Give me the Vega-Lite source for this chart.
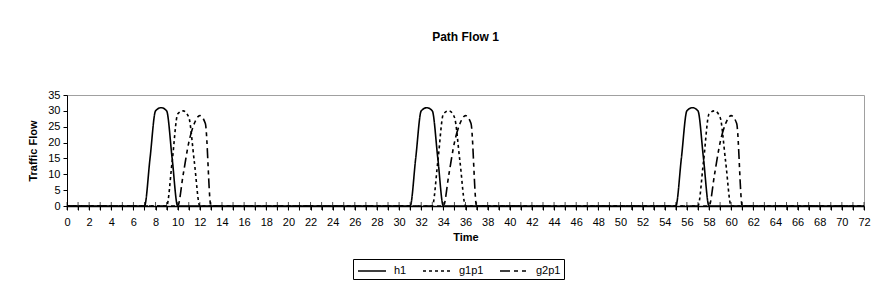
{
  "$schema": "https://vega.github.io/schema/vega-lite/v6.json",
  "width": 797,
  "height": 111,
  "autosize": "none",
  "padding": {"left": 67, "top": 95, "right": 8, "bottom": 91},
  "background": "white",
  "config": {
    "font": "Liberation Sans",
    "view": {"stroke": "#a0a0a0", "strokeWidth": 1}
  },
  "title": {
    "text": "Path Flow 1",
    "fontSize": 12,
    "fontWeight": "bold",
    "offset": 45,
    "anchor": "middle",
    "color": "black",
    "font": "Liberation Sans"
  },
  "data": {
    "values": [
      {"t": 0, "h1": 0, "g1p1": 0, "g2p1": 0},
      {"t": 1, "h1": 0, "g1p1": 0, "g2p1": 0},
      {"t": 2, "h1": 0, "g1p1": 0, "g2p1": 0},
      {"t": 3, "h1": 0, "g1p1": 0, "g2p1": 0},
      {"t": 4, "h1": 0, "g1p1": 0, "g2p1": 0},
      {"t": 5, "h1": 0, "g1p1": 0, "g2p1": 0},
      {"t": 6, "h1": 0, "g1p1": 0, "g2p1": 0},
      {"t": 7, "h1": 0, "g1p1": 0, "g2p1": 0},
      {"t": 7.5, "h1": 15},
      {"t": 8, "h1": 30, "g1p1": 0, "g2p1": 0},
      {"t": 8.5, "h1": 31},
      {"t": 9, "h1": 30, "g1p1": 0, "g2p1": 0},
      {"t": 9.5, "h1": 15, "g1p1": 14},
      {"t": 10, "h1": 0, "g1p1": 29, "g2p1": 0},
      {"t": 10.5, "g1p1": 30, "g2p1": 10},
      {"t": 11, "h1": 0, "g1p1": 28, "g2p1": 20},
      {"t": 11.5, "g1p1": 14, "g2p1": 26},
      {"t": 12, "h1": 0, "g1p1": 0, "g2p1": 28.5},
      {"t": 12.5, "g2p1": 26},
      {"t": 13, "h1": 0, "g1p1": 0, "g2p1": 0},
      {"t": 14, "h1": 0, "g1p1": 0, "g2p1": 0},
      {"t": 15, "h1": 0, "g1p1": 0, "g2p1": 0},
      {"t": 16, "h1": 0, "g1p1": 0, "g2p1": 0},
      {"t": 17, "h1": 0, "g1p1": 0, "g2p1": 0},
      {"t": 18, "h1": 0, "g1p1": 0, "g2p1": 0},
      {"t": 19, "h1": 0, "g1p1": 0, "g2p1": 0},
      {"t": 20, "h1": 0, "g1p1": 0, "g2p1": 0},
      {"t": 21, "h1": 0, "g1p1": 0, "g2p1": 0},
      {"t": 22, "h1": 0, "g1p1": 0, "g2p1": 0},
      {"t": 23, "h1": 0, "g1p1": 0, "g2p1": 0},
      {"t": 24, "h1": 0, "g1p1": 0, "g2p1": 0},
      {"t": 25, "h1": 0, "g1p1": 0, "g2p1": 0},
      {"t": 26, "h1": 0, "g1p1": 0, "g2p1": 0},
      {"t": 27, "h1": 0, "g1p1": 0, "g2p1": 0},
      {"t": 28, "h1": 0, "g1p1": 0, "g2p1": 0},
      {"t": 29, "h1": 0, "g1p1": 0, "g2p1": 0},
      {"t": 30, "h1": 0, "g1p1": 0, "g2p1": 0},
      {"t": 31, "h1": 0, "g1p1": 0, "g2p1": 0},
      {"t": 31.5, "h1": 15},
      {"t": 32, "h1": 30, "g1p1": 0, "g2p1": 0},
      {"t": 32.5, "h1": 31},
      {"t": 33, "h1": 30, "g1p1": 0, "g2p1": 0},
      {"t": 33.5, "h1": 15, "g1p1": 14},
      {"t": 34, "h1": 0, "g1p1": 29, "g2p1": 0},
      {"t": 34.5, "g1p1": 30, "g2p1": 10},
      {"t": 35, "h1": 0, "g1p1": 28, "g2p1": 20},
      {"t": 35.5, "g1p1": 14, "g2p1": 26},
      {"t": 36, "h1": 0, "g1p1": 0, "g2p1": 28.5},
      {"t": 36.5, "g2p1": 26},
      {"t": 37, "h1": 0, "g1p1": 0, "g2p1": 0},
      {"t": 38, "h1": 0, "g1p1": 0, "g2p1": 0},
      {"t": 39, "h1": 0, "g1p1": 0, "g2p1": 0},
      {"t": 40, "h1": 0, "g1p1": 0, "g2p1": 0},
      {"t": 41, "h1": 0, "g1p1": 0, "g2p1": 0},
      {"t": 42, "h1": 0, "g1p1": 0, "g2p1": 0},
      {"t": 43, "h1": 0, "g1p1": 0, "g2p1": 0},
      {"t": 44, "h1": 0, "g1p1": 0, "g2p1": 0},
      {"t": 45, "h1": 0, "g1p1": 0, "g2p1": 0},
      {"t": 46, "h1": 0, "g1p1": 0, "g2p1": 0},
      {"t": 47, "h1": 0, "g1p1": 0, "g2p1": 0},
      {"t": 48, "h1": 0, "g1p1": 0, "g2p1": 0},
      {"t": 49, "h1": 0, "g1p1": 0, "g2p1": 0},
      {"t": 50, "h1": 0, "g1p1": 0, "g2p1": 0},
      {"t": 51, "h1": 0, "g1p1": 0, "g2p1": 0},
      {"t": 52, "h1": 0, "g1p1": 0, "g2p1": 0},
      {"t": 53, "h1": 0, "g1p1": 0, "g2p1": 0},
      {"t": 54, "h1": 0, "g1p1": 0, "g2p1": 0},
      {"t": 55, "h1": 0, "g1p1": 0, "g2p1": 0},
      {"t": 55.5, "h1": 15},
      {"t": 56, "h1": 30, "g1p1": 0, "g2p1": 0},
      {"t": 56.5, "h1": 31},
      {"t": 57, "h1": 30, "g1p1": 0, "g2p1": 0},
      {"t": 57.5, "h1": 15, "g1p1": 14},
      {"t": 58, "h1": 0, "g1p1": 29, "g2p1": 0},
      {"t": 58.5, "g1p1": 30, "g2p1": 10},
      {"t": 59, "h1": 0, "g1p1": 28, "g2p1": 20},
      {"t": 59.5, "g1p1": 14, "g2p1": 26},
      {"t": 60, "h1": 0, "g1p1": 0, "g2p1": 28.5},
      {"t": 60.5, "g2p1": 26},
      {"t": 61, "h1": 0, "g1p1": 0, "g2p1": 0},
      {"t": 62, "h1": 0, "g1p1": 0, "g2p1": 0},
      {"t": 63, "h1": 0, "g1p1": 0, "g2p1": 0},
      {"t": 64, "h1": 0, "g1p1": 0, "g2p1": 0},
      {"t": 65, "h1": 0, "g1p1": 0, "g2p1": 0},
      {"t": 66, "h1": 0, "g1p1": 0, "g2p1": 0},
      {"t": 67, "h1": 0, "g1p1": 0, "g2p1": 0},
      {"t": 68, "h1": 0, "g1p1": 0, "g2p1": 0},
      {"t": 69, "h1": 0, "g1p1": 0, "g2p1": 0},
      {"t": 70, "h1": 0, "g1p1": 0, "g2p1": 0},
      {"t": 71, "h1": 0, "g1p1": 0, "g2p1": 0},
      {"t": 72, "h1": 0, "g1p1": 0, "g2p1": 0}
    ]
  },
  "transform": [
    {"fold": ["h1", "g1p1", "g2p1"], "as": ["series", "v"]},
    {"filter": "isValid(datum.v)"}
  ],
  "resolve": {"axis": {"x": "independent", "y": "independent"}},
  "layer": [
    {
      "mark": {"type": "line", "interpolate": "monotone", "color": "black", "strokeWidth": 1.6},
      "encoding": {
        "x": {
          "field": "t",
          "type": "quantitative",
          "scale": {"domain": [0, 72], "nice": false},
          "axis": {
            "title": "Time",
            "values": [0,1,2,3,4,5,6,7,8,9,10,11,12,13,14,15,16,17,18,19,20,21,22,23,24,25,26,27,28,29,30,31,32,33,34,35,36,37,38,39,40,41,42,43,44,45,46,47,48,49,50,51,52,53,54,55,56,57,58,59,60,61,62,63,64,65,66,67,68,69,70,71,72],
            "labelExpr": "datum.value % 2 == 0 ? datum.label : ''",
            "labelOverlap": false,
            "labelFlush": false,
            "tickSize": 4,
            "tickColor": "black",
            "domainColor": "black",
            "domainWidth": 1.5,
            "labelFontSize": 11,
            "labelColor": "black",
            "labelPadding": 6,
            "titleFontSize": 11,
            "titleFontWeight": "bold",
            "titleColor": "black",
            "titlePadding": 4,
            "grid": false
          }
        },
        "y": {
          "field": "v",
          "type": "quantitative",
          "scale": {"domain": [0, 35], "nice": false},
          "axis": {
            "title": "Traffic Flow",
            "values": [0, 5, 10, 15, 20, 25, 30, 35],
            "labelOverlap": false,
            "labelFlush": false,
            "tickSize": 4,
            "tickColor": "black",
            "domainColor": "black",
            "domainWidth": 1,
            "labelFontSize": 11,
            "labelColor": "black",
            "labelPadding": 3,
            "titleFontSize": 11,
            "titleFontWeight": "bold",
            "titleColor": "black",
            "titlePadding": 9,
            "grid": false
          }
        },
        "strokeDash": {
          "field": "series",
          "type": "nominal",
          "scale": {"domain": ["h1", "g1p1", "g2p1"], "range": [[1, 0], [3, 3], [10, 4, 4, 4, 4, 4]]},
          "legend": {
            "title": null,
            "orient": "none",
            "legendX": 286,
            "legendY": 164,
            "direction": "horizontal",
            "symbolType": "M-1.5,0H2",
            "symbolSize": 256,
            "symbolOffset": 5,
            "symbolStrokeWidth": 1.6,
            "symbolStrokeColor": "black",
            "symbolFillColor": "transparent",
            "labelFontSize": 11,
            "labelColor": "black",
            "labelOffset": 15,
            "columnPadding": 12,
            "strokeColor": "black",
            "fillColor": "white",
            "padding": 3
          }
        }
      }
    },
    {
      "transform": [{"filter": "datum.series == 'h1' && datum.t == floor(datum.t)"}],
      "mark": {"type": "tick", "color": "black", "thickness": 1, "size": 8, "orient": "vertical"},
      "encoding": {
        "x": {"field": "t", "type": "quantitative", "axis": null},
        "y": {"datum": 0, "type": "quantitative", "axis": null}
      }
    }
  ]
}
